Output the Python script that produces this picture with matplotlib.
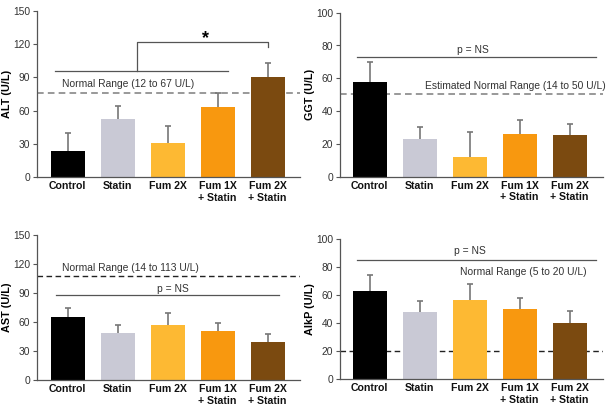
import matplotlib.pyplot as plt
import numpy as np

plt.rcParams['font.family'] = ['Liberation Sans', 'DejaVu Sans']

groups = ["Control", "Statin", "Fum 2X", "Fum 1X\n+ Statin", "Fum 2X\n+ Statin"]
colours = ["#000000", "#c9c9d5", "#fdb933", "#f8980f", "#7b4a10"]

alt_mean = [23.5, 52, 30.7, 63.6, 90.4]
alt_top = [39.8, 64.5, 46, 76.2, 103.3]
ggt_mean = [57.7, 22.8, 12.2, 26, 25.4]
ggt_top = [69.9, 30.3, 27.2, 34.3, 32.1]
ast_mean = [64.8, 48.3, 56.6, 50.3, 39.7]
ast_top = [75, 56.9, 69.7, 59, 47.2]
alkp_mean = [63.3, 47.9, 56.7, 50, 40.5]
alkp_top = [74.5, 56.2, 68.1, 58.3, 48.6]

GRAY = "#555555"
TXT = "#333333"


def barPanel(ax, means, tops, ylabel, ymax, step, xlim):
    x = np.arange(len(groups))
    err = np.array(tops) - np.array(means)
    ax.bar(x, means, width=0.68, color=colours, zorder=2)
    eb = ax.errorbar(x, means, yerr=[np.zeros_like(err), err], fmt="none",
                     ecolor="#777777", elinewidth=1.2, capsize=2.5, capthick=1.2, zorder=1)
    eb[1][0].set_visible(False)  # only the upper cap
    ax.set_xlim(*xlim)
    ax.set_ylim(0, ymax)
    ax.set_yticks(np.arange(0, ymax + 1, step))
    ax.set_xticks(x)
    ax.set_xticklabels(groups, fontsize=7.6, fontweight="bold", color="#111111")
    ax.tick_params(axis="x", length=0, pad=3)
    ax.tick_params(axis="y", length=3, width=0.8, color=GRAY, labelsize=7.4, labelcolor=TXT, pad=2)
    ax.set_ylabel(ylabel, fontsize=7.8, fontweight="bold")
    ax.yaxis.set_label_coords(-0.095, 0.5)
    for s in ["top", "right"]:
        ax.spines[s].set_visible(False)
    for s in ["left", "bottom"]:
        ax.spines[s].set_color(GRAY)
        ax.spines[s].set_linewidth(0.9)


fig = plt.figure(figsize=(6.08, 4.15), dpi=100)
ax1 = fig.add_axes([37 / 608, 1 - 177 / 415, 263 / 608, 166 / 415])
ax2 = fig.add_axes([340 / 608, 1 - 176.7 / 415, 263 / 608, 164 / 415])
ax3 = fig.add_axes([37 / 608, 1 - 380 / 415, 263 / 608, 145 / 415])
ax4 = fig.add_axes([340 / 608, 1 - 379.3 / 415, 263 / 608, 140 / 415])

leftLim = (-0.61, 4.65)
rightLim = (-0.59, 4.67)

# ALT
barPanel(ax1, alt_mean, alt_top, "ALT (U/L)", 150, 30, leftLim)
ax1.axhline(75.9, color="#888888", ls="--", lw=1.2, dashes=(4, 2.5), zorder=0)
ax1.text(-0.1, 83.7, "Normal Range (12 to 67 U/L)", fontsize=7.4, color=TXT, va="center")
ax1.plot([-0.25, 3.2], [95.5, 95.5], color=GRAY, lw=0.9)
ax1.plot([1.39, 1.39, 4.0, 4.0], [95.5, 122, 122, 117.5], color=GRAY, lw=0.9)
ax1.text(2.75, 125, "*", fontsize=13, fontweight="bold", ha="center", va="center")

# GGT
barPanel(ax2, ggt_mean, ggt_top, "GGT (U/L)", 100, 20, rightLim)
ax2.axhline(50.6, color="#888888", ls="--", lw=1.2, dashes=(4, 2.5), zorder=0)
ax2.text(4.72, 55.3, "Estimated Normal Range (14 to 50 U/L)", fontsize=7.4, color=TXT,
         va="center", ha="right", clip_on=False)
ax2.plot([-0.25, 4.53], [72.8, 72.8], color=GRAY, lw=0.9)
ax2.text(2.07, 77.2, "p = NS", fontsize=7.4, color=TXT, ha="center", va="center")

# AST
barPanel(ax3, ast_mean, ast_top, "AST (U/L)", 150, 30, leftLim)
ax3.axhline(107.6, color="#222222", ls="--", lw=1.0, dashes=(4, 2.5), zorder=0)
ax3.text(-0.1, 115.5, "Normal Range (14 to 113 U/L)", fontsize=7.4, color=TXT, va="center")
ax3.plot([-0.23, 4.23], [87.6, 87.6], color=GRAY, lw=0.9)
ax3.text(2.1, 94.5, "p = NS", fontsize=7.4, color=TXT, ha="center", va="center")

# AlkP
barPanel(ax4, alkp_mean, alkp_top, "AlkP (U/L)", 100, 20, rightLim)
ax4.axhline(20.2, color="#222222", ls="--", lw=1.0, dashes=(4, 2.5), zorder=0)
ax4.text(4.35, 76.9, "Normal Range (5 to 20 U/L)", fontsize=7.4, color=TXT, va="center", ha="right")
ax4.plot([-0.25, 4.53], [85.2, 85.2], color=GRAY, lw=0.9)
ax4.text(2.0, 91.9, "p = NS", fontsize=7.4, color=TXT, ha="center", va="center")

plt.savefig("out.png", dpi=100)
